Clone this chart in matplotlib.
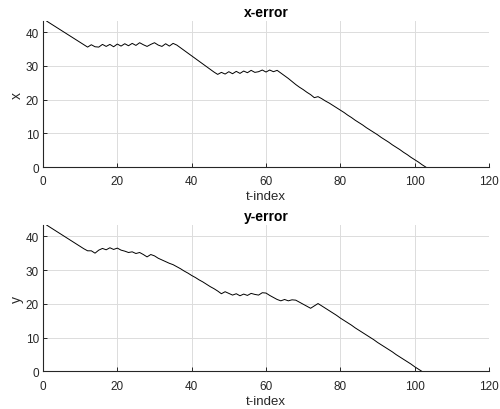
import numpy as np
import matplotlib
matplotlib.use('Agg')
import matplotlib.pyplot as plt

plt.rcParams['font.family'] = ['Liberation Sans', 'DejaVu Sans']

# x error per time step
x_err = [43.3, 42.6, 41.9, 41.2, 40.5, 39.8, 39.1, 38.4, 37.7, 37.0,
         36.3, 35.6, 36.3, 35.7, 35.6, 36.4, 35.8, 36.4, 35.7, 36.5,
         35.9, 36.6, 36.0, 36.7, 36.1, 36.9, 36.3, 35.8, 36.4, 36.9,
         36.2, 35.8, 36.6, 35.9, 36.7, 36.2, 35.4, 34.6, 33.8, 33.0,
         32.2, 31.4, 30.6, 29.8, 29.0, 28.2, 27.5, 28.1, 27.6, 28.3,
         27.7, 28.4, 27.8, 28.5, 28.0, 28.7, 28.1, 28.3, 28.8, 28.2,
         28.8, 28.3, 28.7, 27.9, 27.1, 26.3, 25.4, 24.5, 23.7, 23.0,
         22.2, 21.5, 20.6, 20.9, 20.3, 19.6, 19.0, 18.3, 17.6, 16.9,
         16.2, 15.4, 14.7, 13.9, 13.2, 12.5, 11.7, 11.0, 10.3, 9.6,
         8.8, 8.1, 7.4, 6.6, 5.9, 5.2, 4.4, 3.7, 2.9, 2.2,
         1.5, 0.7, 0.0]

# y error per time step
y_err = [43.3, 42.6, 41.9, 41.2, 40.5, 39.8, 39.1, 38.4, 37.7, 37.0,
         36.3, 35.7, 35.7, 35.0, 35.9, 36.4, 36.0, 36.6, 36.1, 36.5,
         35.9, 35.6, 35.2, 35.4, 34.9, 35.2, 34.6, 33.9, 34.6, 34.2,
         33.5, 33.0, 32.5, 32.0, 31.6, 31.0, 30.4, 29.7, 29.1, 28.4,
         27.8, 27.1, 26.5, 25.8, 25.1, 24.5, 23.8, 23.0, 23.6, 23.1,
         22.6, 23.0, 22.4, 22.9, 22.5, 23.1, 22.8, 22.6, 23.3, 23.2,
         22.5, 21.9, 21.3, 20.9, 21.3, 20.9, 21.2, 21.1, 20.5, 19.9,
         19.3, 18.7, 19.4, 20.1, 19.4, 18.7, 18.0, 17.3, 16.6, 15.8,
         15.1, 14.4, 13.7, 12.9, 12.2, 11.5, 10.8, 10.1, 9.4, 8.6,
         7.9, 7.2, 6.5, 5.8, 5.0, 4.3, 3.6, 2.9, 2.2, 1.4,
         0.7, 0.0]

tx = np.arange(1, len(x_err) + 1)
ty = np.arange(1, len(y_err) + 1)

fig = plt.figure(figsize=(5, 4.1), dpi=100)
ax1 = fig.add_axes([0.086, 0.590, 0.892, 0.356])
ax2 = fig.add_axes([0.086, 0.0915, 0.892, 0.357])

for ax, t, v, name, lab in [(ax1, tx, x_err, 'x-error', 'x'),
                            (ax2, ty, y_err, 'y-error', 'y')]:
    ax.plot(t, v, color='black', lw=0.7)
    ax.set_xlim(0, 120)
    ax.set_ylim(0, max(v))
    ax.set_xticks([0, 20, 40, 60, 80, 100, 120])
    ax.set_yticks([0, 10, 20, 30, 40])
    ax.grid(True, color='#dcdcdc', lw=0.7)
    ax.set_axisbelow(True)
    ax.spines['top'].set_visible(False)
    ax.spines['right'].set_visible(False)
    ax.spines['left'].set_color('#262626')
    ax.spines['bottom'].set_color('#262626')
    ax.tick_params(direction='in', labelsize=8.5, colors='#262626',
                   length=3, width=0.7)
    ax.tick_params(axis='x', pad=6)
    ax.tick_params(axis='y', pad=3)
    ax.set_title(name, fontsize=10, fontweight='bold', pad=3.5)
    ax.set_xlabel('t-index', fontsize=9.5, color='#262626', labelpad=2)
    ax.set_ylabel(lab, fontsize=10, color='#262626', labelpad=1)

fig.savefig('out.png', dpi=100)
